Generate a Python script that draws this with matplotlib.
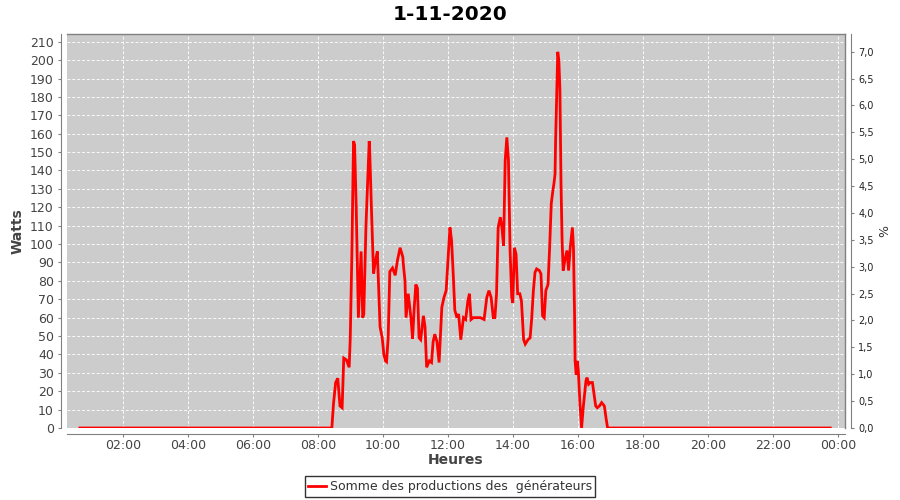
import matplotlib
matplotlib.use("Agg")
import matplotlib.pyplot as plt
from matplotlib.ticker import FuncFormatter, MultipleLocator

# heures (HH:MM) et puissance (W)
heures = ["00:41", "08:26", "08:29", "08:33", "08:37", "08:41", "08:45", "08:48",
          "08:53", "08:58", "09:00", "09:03", "09:06", "09:08", "09:11", "09:15",
          "09:20", "09:23", "09:25", "09:29", "09:35", "09:36", "09:39", "09:43",
          "09:46", "09:50", "09:52", "09:55", "09:59", "10:02", "10:05", "10:07",
          "10:10", "10:13", "10:18", "10:23", "10:27", "10:32", "10:37", "10:38",
          "10:41", "10:43", "10:47", "10:52", "10:55", "10:58", "11:01", "11:04",
          "11:07", "11:10", "11:15", "11:18", "11:21", "11:26", "11:30", "11:33",
          "11:36", "11:40", "11:44", "11:49", "11:53", "11:57", "12:00", "12:04",
          "12:07", "12:10", "12:13", "12:17", "12:20", "12:24", "12:29", "12:33",
          "12:37", "12:40", "12:43", "12:47", "13:00", "13:07", "13:12", "13:16",
          "13:20", "13:24", "13:27", "13:30", "13:33", "13:37", "13:40", "13:43",
          "13:46", "13:49", "13:52", "13:55", "13:58", "14:00", "14:03", "14:06",
          "14:09", "14:13", "14:16", "14:20", "14:23", "14:28", "14:32", "14:35",
          "14:38", "14:41", "14:44", "14:49", "14:52", "14:55", "14:58", "15:01",
          "15:05", "15:08", "15:11", "15:14", "15:16", "15:18", "15:19", "15:23",
          "15:25", "15:27", "15:29", "15:31", "15:33", "15:36", "15:40", "15:43",
          "15:46", "15:50", "15:52", "15:54", "15:55", "15:57", "15:59", "16:01",
          "16:04", "16:07", "16:10", "16:15", "16:17", "16:20", "16:23", "16:27",
          "16:30", "16:33", "16:36", "16:40", "16:44", "16:49", "16:52", "16:55",
          "23:46"]
watts = [0, 0, 13, 24.7, 27, 12, 11, 38,
         37, 33, 49, 95, 156, 154, 120, 60,
         96, 60, 62, 110, 156, 150, 120, 84,
         90, 96, 80, 55, 49, 40, 36.5, 36,
         49, 85, 87, 83, 91, 98, 93, 89,
         80, 60, 73, 60, 48.5, 65, 78, 76,
         49, 48, 61, 55, 33, 36.5, 35.6, 47,
         51, 47, 35.6, 65.6, 71, 74.7, 89, 109,
         102, 84, 64, 60, 62, 48, 60, 59,
         69, 73, 59, 60, 60, 59, 71, 74.7,
         71, 60, 60, 73, 109, 114.6, 109, 99,
         145.5, 158, 145.5, 96.5, 71, 68, 98, 94.6,
         73, 73, 69, 48, 45.6, 48, 49, 60,
         74.7, 84.6, 86.5, 85.6, 83.8, 61, 60, 74.7,
         78, 98, 122, 129, 133, 138, 156, 204.5,
         200, 184, 133, 102, 85.6, 91, 96.5, 85.6,
         98, 109, 98, 62, 36.5, 29, 36.5, 31,
         13, 0, 11, 25.6, 27.4, 23.8, 24.7, 24.7,
         18.4, 12, 11, 12, 13.8, 12, 5.6, 0,
         0]

x_ticks = [2, 4, 6, 8, 10, 12, 14, 16, 18, 20, 22, 24]
pct_ticks = [0, 0.5, 1, 1.5, 2, 2.5, 3, 3.5, 4, 4.5, 5, 5.5, 6, 6.5, 7]

t = [int(h[:2]) + int(h[3:]) / 60 for h in heures]

fig = plt.figure(figsize=(9, 5), dpi=100)
ax = fig.add_axes([67 / 900, 72 / 500, 778 / 900, 394 / 500])
ax.set_facecolor("#cccccc")

ax.plot(t, watts, color="#ff0000", lw=2, label="Somme des productions des  générateurs",
        solid_joinstyle="miter", zorder=3)

ax.set_xlim(0.286, 24.22)
ax.set_ylim(0, 214.2)
ax.set_xticks(x_ticks)
ax.xaxis.set_major_formatter(FuncFormatter(lambda v, p: "%02d:00" % (int(round(v)) % 24)))
ax.yaxis.set_major_locator(MultipleLocator(10))
ax.grid(True, color="white", ls=(0, (3, 2)), lw=0.7, alpha=0.9)

for s in ["top", "right"]:
    ax.spines[s].set_color("#808080")
    ax.spines[s].set_linewidth(1)
for s in ["left", "bottom"]:
    ax.spines[s].set_position(("outward", 4))
    ax.spines[s].set_color("#808080")
ax.tick_params(colors="#808080", labelcolor="#444444", labelsize=9, length=2)
ax.tick_params(axis="x", pad=2)

ax.set_xlabel("Heures", fontsize=10, fontweight="bold", color="#444444", labelpad=1)
ax.set_ylabel("Watts", fontsize=10, fontweight="bold", color="#444444", labelpad=4)

ax2 = ax.twinx()
ax2.set_ylim(0, 7.33)
ax2.set_yticks(pct_ticks)
ax2.yaxis.set_major_formatter(FuncFormatter(lambda v, p: ("%.1f" % v).replace(".", ",")))
ax2.tick_params(colors="#808080", labelcolor="#222222", labelsize=7, length=2)
for s in ["top", "left", "bottom"]:
    ax2.spines[s].set_visible(False)
ax2.spines["right"].set_position(("outward", 4))
ax2.spines["right"].set_color("#808080")
ax2.set_ylabel("%", fontsize=9, color="#333333", labelpad=3)

fig.suptitle("1-11-2020", fontsize=14.5, fontweight="bold", y=0.99)

leg = fig.legend(loc="lower center", bbox_to_anchor=(0.5, 0.0), ncol=1, fontsize=9,
                 frameon=True, fancybox=False, edgecolor="black", handlelength=1.4,
                 handletextpad=0.3, borderpad=0.3, borderaxespad=0.25)
leg.get_frame().set_linewidth(1)
for txt in leg.get_texts():
    txt.set_color("#333333")

fig.savefig("out.png", dpi=100)
